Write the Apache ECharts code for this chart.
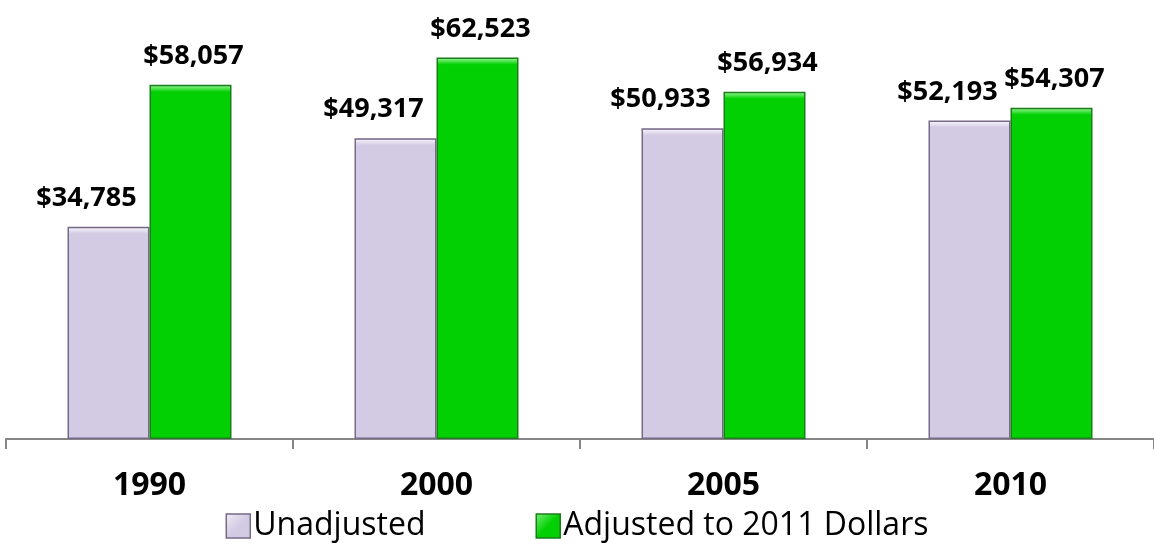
<!DOCTYPE html>
<html>
<head>
<meta charset="utf-8">
<script src="https://cdn.jsdelivr.net/npm/echarts@6/dist/echarts.min.js"></script>
<style>
  html, body { margin: 0; padding: 0; background: #ffffff; }
  #chart { width: 1154px; height: 550px; }
</style>
</head>
<body>
<div id="chart"></div>
<script>
// Median household income, nominal vs. inflation-adjusted
const years = ['1990', '2000', '2005', '2010'];
const unadjusted = [34785, 49317, 50933, 52193];
const adjusted2011 = [58057, 62523, 56934, 54307];
const seriesNames = ['Unadjusted', 'Adjusted to 2011 Dollars'];

const Y_MAX = 70000;
const GRID_TOP = 12;
const GRID_BOTTOM = 111;
const plotHeight = 550 - GRID_TOP - GRID_BOTTOM;

function fmtMoney(v) {
  return '$' + v.toLocaleString('en-US');
}

// Bevelled fill: a light rim across the top few pixels of each bar
function bevelFill(value, light, body, dark) {
  const h = value / Y_MAX * plotHeight;
  const f = Math.min(0.5, 7 / h);
  return {
    type: 'linear', x: 0, y: 0, x2: 0, y2: 1,
    colorStops: [
      { offset: 0, color: dark },
      { offset: f * 0.25, color: light },
      { offset: f, color: body },
      { offset: 1, color: body }
    ]
  };
}

function iconFill(light, body) {
  return {
    type: 'linear', x: 0, y: 0, x2: 1, y2: 1,
    colorStops: [
      { offset: 0, color: light },
      { offset: 0.5, color: body },
      { offset: 1, color: body }
    ]
  };
}

const lav = { light: '#f1eef8', body: '#d3cbe3', dark: '#a79bbb', border: '#766a88' };
const grn = { light: '#7af07a', body: '#02d002', dark: '#35a535', border: '#1d7d1d' };

function makeSeries(name, values, pal, labelOffset) {
  return {
    name: name,
    type: 'bar',
    barWidth: 82,
    barGap: '0%',
    itemStyle: {
      color: pal.body,
      borderColor: pal.border,
      borderWidth: 1.5
    },
    data: values.map(v => ({
      value: v,
      itemStyle: { color: bevelFill(v, pal.light, pal.body, pal.dark) }
    })),
    label: {
      show: true,
      position: 'top',
      distance: 15,
      offset: labelOffset,
      formatter: p => fmtMoney(p.value),
      fontFamily: 'Open Sans',
      fontWeight: 'bold',
      fontSize: 27,
      lineHeight: 27,
      color: '#000000'
    }
  };
}

const chart = echarts.init(document.getElementById('chart'), null, { renderer: 'canvas' });

chart.setOption({
  animation: false,
  backgroundColor: '#ffffff',
  grid: { left: 6, right: -4, top: GRID_TOP, bottom: GRID_BOTTOM, containLabel: false },
  legend: {
    bottom: 3,
    left: 'center',
    itemWidth: 24,
    itemHeight: 24,
    itemGap: 110,
    icon: 'rect',
    textStyle: { fontFamily: 'Open Sans', fontSize: 32, color: '#000000', padding: [0, 0, 0, -2] },
    data: [
      { name: seriesNames[0], itemStyle: { color: iconFill(lav.light, lav.body), borderColor: lav.border, borderWidth: 1.5 } },
      { name: seriesNames[1], itemStyle: { color: iconFill(grn.light, grn.body), borderColor: grn.border, borderWidth: 1.5 } }
    ]
  },
  xAxis: {
    type: 'category',
    data: years,
    axisLine: { lineStyle: { color: '#868686', width: 2 } },
    axisTick: { show: true, length: 10, lineStyle: { color: '#868686', width: 2 } },
    axisLabel: {
      margin: 31,
      fontFamily: 'Open Sans',
      fontWeight: 'bold',
      fontSize: 32,
      color: '#000000'
    }
  },
  yAxis: {
    type: 'value',
    min: 0,
    max: Y_MAX,
    show: false,
    splitLine: { show: false }
  },
  series: [
    makeSeries(seriesNames[0], unadjusted, lav, [-22, 0]),
    makeSeries(seriesNames[1], adjusted2011, grn, [3, 0])
  ]
});
</script>
</body>
</html>
